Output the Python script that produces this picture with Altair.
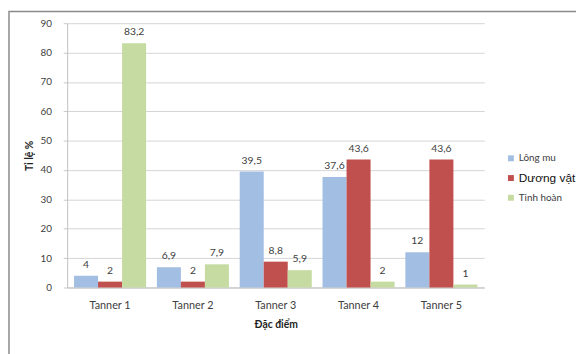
import altair as alt
import pandas as pd

categories = ["Tanner 1", "Tanner 2", "Tanner 3", "Tanner 4", "Tanner 5"]
series_names = ["Lông mu", "Dương vật", "Tinh hoàn"]
long_mu = [4, 6.9, 39.5, 37.6, 12]
duong_vat = [2, 2, 8.8, 43.6, 43.6]
tinh_hoan = [83.2, 7.9, 5.9, 2, 1]
colors = ["#A3BEE3", "#C0504D", "#C6DBA2"]

rows = []
for name, vals in zip(series_names, [long_mu, duong_vat, tinh_hoan]):
    for c, v in zip(categories, vals):
        rows.append({"cat": c, "series": name, "value": v,
                     "label": (f"{v:g}").replace(".", ",")})
df = pd.DataFrame(rows)

FONT = "Lato"

x = alt.X("cat:N", sort=categories, title="Đặc điểm",
          scale=alt.Scale(paddingInner=0.13, paddingOuter=0.083),
          axis=alt.Axis(labelAngle=0, ticks=False, labelPadding=12,
                        titlePadding=10, labelFontSize=11, labelColor="#404040",
                        titleFontSize=10.5, titleFontWeight="bold", titleColor="#222",
                        domainColor="#BFBFBF", labelFont=FONT, titleFont=FONT))
xo = alt.XOffset("series:N", sort=series_names)
y = alt.Y("value:Q", title="Tỉ lệ %",
          scale=alt.Scale(domain=[0, 90], nice=False),
          axis=alt.Axis(values=list(range(0, 91, 10)), tickSize=4, labelPadding=12,
                        titlePadding=6, labelFontSize=10, labelColor="#404040",
                        titleFontSize=10.5, titleFontWeight="bold", titleColor="#222",
                        gridColor="#D4D4D4", tickColor="#C8C8C8", domainColor="#BFBFBF",
                        labelFont=FONT, titleFont=FONT))

bars = alt.Chart(df).mark_bar().encode(
    x=x, xOffset=xo, y=y,
    color=alt.Color("series:N", sort=series_names,
                    scale=alt.Scale(domain=series_names, range=colors),
                    legend=alt.Legend(title=None, orient="none", legendX=445, legendY=132,
                                      symbolType="square", symbolSize=36,
                                      symbolStrokeWidth=0, labelOffset=3, rowPadding=9,
                                      labelColor=alt.ExprRef(expr="datum.label == 'Dương vật' ? '#111' : '#404040'"),
                                      labelFont=alt.ExprRef(expr="datum.label == 'Dương vật' ? 'Liberation Sans' : 'Lato'"),
                                      labelFontSize=alt.ExprRef(expr="datum.label == 'Dương vật' ? 12 : 10"))),
)

texts = alt.Chart(df).mark_text(baseline="bottom", dy=-6, fontSize=10.5, font=FONT,
                                color="#404040").encode(
    x=x, xOffset=xo, y=y, text="label:N")

frame = alt.Chart(alt.Data(values=[{}])).mark_rect(
    filled=False, stroke="#8A8A8A", strokeWidth=1.5).encode(
    x=alt.value(-59), y=alt.value(-12), x2=alt.value(700), y2=alt.value(500))

chart = alt.layer(frame, bars, texts).properties(
    width=423, height=268,
    autosize=alt.AutoSizeParams(type="none"),
    padding={"left": 60, "top": 13, "right": 93, "bottom": 65},
).configure_view(stroke=None)

chart.save("out.html", embed_options={"renderer": "svg", "actions": False})
